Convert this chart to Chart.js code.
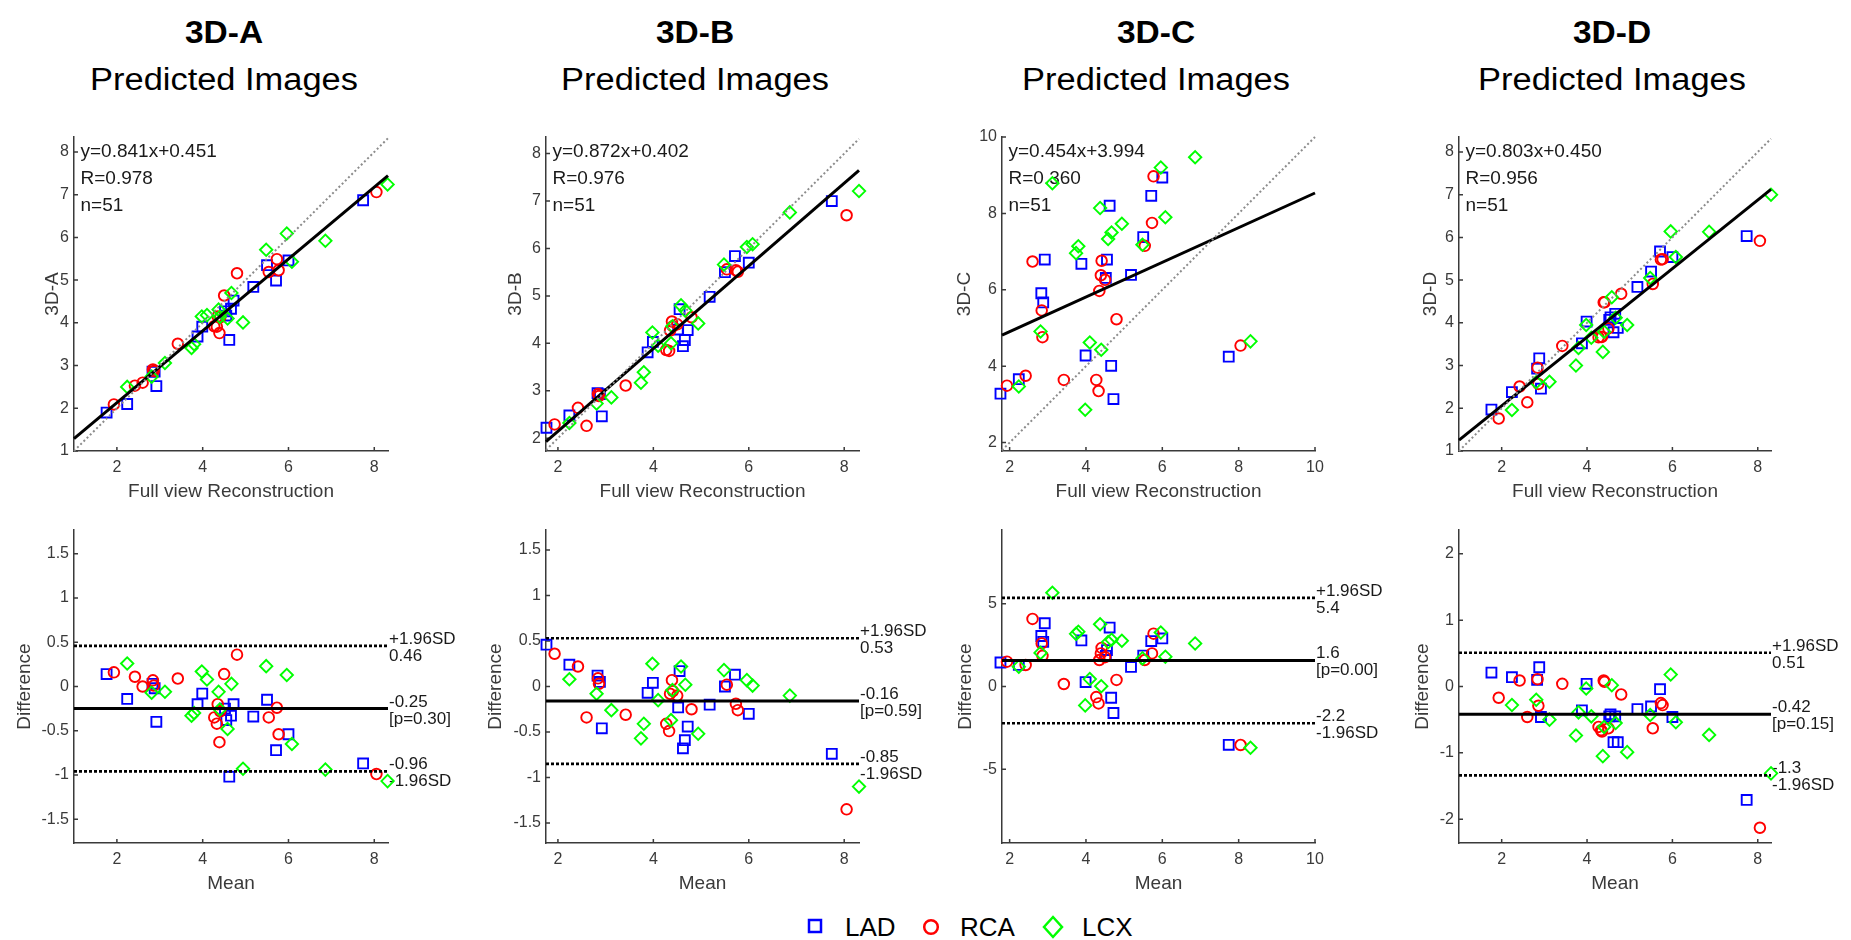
<!DOCTYPE html>
<html lang="en">
<head>
<meta charset="UTF-8">
<title>3D predicted images vs full view reconstruction</title>
<script src="https://cdn.jsdelivr.net/npm/chart.js"></script>
<style>
  body { margin: 0; width: 1851px; height: 940px; overflow: hidden; background: #fff; position: relative;
         font-family: 'Liberation Sans', Arial, sans-serif; }
  canvas { position: absolute; }
  .head, .sub { position: absolute; width: 400px; text-align: center; color: #000; white-space: nowrap; }
  .head { font-weight: bold; font-size: 31px; line-height: 31px; top: 17px; transform: scaleX(1.08); }
  .sub { font-size: 31px; line-height: 31px; top: 64px; transform: scaleX(1.11); }
  .leg { position: absolute; top: 914px; font-size: 26px; line-height: 26px; color: #000; }
  .legMark { position: absolute; top: 915px; }
</style>
</head>
<body>
<svg class="legMark" style="left:806px" width="20" height="24"><rect x="3" y="5" width="12" height="12" fill="none" stroke="#0000ff" stroke-width="2.5"/></svg>
<div class="leg" style="left:845px">LAD</div>
<svg class="legMark" style="left:920px" width="22" height="24"><circle cx="11" cy="12" r="6.8" fill="none" stroke="#ff0000" stroke-width="2.5"/></svg>
<div class="leg" style="left:960px">RCA</div>
<svg class="legMark" style="left:1042px" width="22" height="24"><polygon points="11,2 20,12 11,22 2,12" fill="none" stroke="#00ff00" stroke-width="2.5"/></svg>
<div class="leg" style="left:1082px">LCX</div>

<script>
  // panel names
  const panels = ['3D-A', '3D-B', '3D-C', '3D-D'];

  // full view reconstruction values (shared by all panels)
  const fullLAD = [1.76, 2.24, 2.83, 2.88, 2.92, 3.88, 3.99, 4.52, 4.55, 4.62, 4.66, 4.72, 5.18, 5.50, 5.71, 6.00, 7.74];
  const fullRCA = [1.93, 2.42, 2.60, 2.84, 2.86, 3.42, 4.27, 4.33, 4.35, 4.39, 4.41, 4.50, 4.80, 5.54, 5.73, 5.77, 8.05];
  const fullLCX = [2.24, 2.81, 3.12, 3.74, 3.80, 3.98, 4.10, 4.37, 4.40, 4.58, 4.67, 4.94, 5.48, 5.96, 6.08, 6.86, 8.31];

  // predicted values (top row)
  const predA_LAD = [1.90, 2.10, 2.86, 2.86, 2.52, 3.68, 3.91, 4.27, 4.17, 3.60, 4.33, 4.52, 4.84, 5.35, 4.99, 5.46, 6.87];
  const predA_RCA = [2.09, 2.53, 2.60, 2.91, 2.87, 3.51, 3.92, 3.91, 4.15, 3.76, 4.13, 4.64, 5.16, 5.19, 5.49, 5.23, 7.06];
  const predA_LCX = [2.50, 2.74, 3.06, 3.41, 3.50, 4.15, 4.18, 4.31, 4.14, 4.10, 4.70, 4.01, 5.71, 6.09, 5.43, 5.92, 7.24];
  const predB_LAD = [2.22, 2.48, 2.95, 2.93, 2.46, 3.81, 4.03, 4.29, 4.72, 3.94, 4.07, 4.28, 4.98, 5.50, 5.84, 5.70, 7.00];
  const predB_RCA = [2.29, 2.64, 2.26, 2.93, 2.89, 3.11, 3.86, 3.84, 4.27, 4.46, 4.36, 4.40, 4.55, 5.56, 5.54, 5.51, 6.70];
  const predB_LCX = [2.32, 2.73, 2.86, 3.17, 3.39, 4.23, 3.95, 4.00, 4.36, 4.80, 4.69, 4.42, 5.66, 6.03, 6.09, 6.76, 7.21];
  const predC_LAD = [3.28, 3.66, 5.91, 5.67, 6.79, 6.68, 4.28, 6.31, 6.79, 8.20, 4.01, 3.14, 6.39, 7.38, 8.46, 8.94, 4.25];
  const predC_RCA = [3.49, 3.75, 6.74, 5.46, 4.76, 3.64, 3.64, 3.35, 5.97, 6.38, 6.76, 6.26, 5.23, 7.15, 7.75, 8.97, 4.54];
  const predC_LCX = [3.47, 4.91, 8.79, 6.96, 7.14, 2.86, 4.62, 8.14, 4.43, 7.33, 7.50, 7.73, 7.18, 9.20, 7.90, 9.47, 4.65];
  const predD_LAD = [1.97, 2.38, 2.93, 3.17, 2.46, 3.52, 4.03, 4.07, 4.13, 3.78, 4.21, 3.88, 4.84, 5.20, 5.67, 5.54, 6.03];
  const predD_RCA = [1.76, 2.51, 2.14, 2.95, 2.57, 3.46, 3.66, 3.67, 3.67, 4.48, 4.48, 3.87, 4.68, 4.91, 5.48, 5.49, 5.92];
  const predD_LCX = [1.96, 2.61, 2.62, 3.00, 3.41, 3.95, 3.65, 3.32, 3.79, 4.60, 4.12, 3.95, 5.05, 6.14, 5.54, 6.13, 7.00];

  // differences (bottom row)
  const diffA_LAD = [0.14, -0.14, 0.03, -0.02, -0.40, -0.20, -0.08, -0.25, -0.38, -1.02, -0.33, -0.20, -0.34, -0.15, -0.72, -0.54, -0.87];
  const diffA_RCA = [0.16, 0.11, 0.00, 0.07, 0.01, 0.09, -0.35, -0.42, -0.20, -0.63, -0.28, 0.14, 0.36, -0.35, -0.24, -0.54, -0.99];
  const diffA_LCX = [0.26, -0.07, -0.06, -0.33, -0.30, 0.17, 0.08, -0.06, -0.26, -0.48, 0.03, -0.93, 0.23, 0.13, -0.65, -0.94, -1.07];
  const diffB_LAD = [0.46, 0.24, 0.12, 0.05, -0.46, -0.07, 0.04, -0.23, 0.17, -0.68, -0.59, -0.44, -0.20, 0.00, 0.13, -0.30, -0.74];
  const diffB_RCA = [0.36, 0.22, -0.34, 0.09, 0.03, -0.31, -0.41, -0.49, -0.08, 0.07, -0.05, -0.10, -0.25, 0.02, -0.19, -0.26, -1.35];
  const diffB_LCX = [0.08, -0.08, -0.26, -0.57, -0.41, 0.25, -0.15, -0.37, -0.04, 0.22, 0.02, -0.52, 0.18, 0.07, 0.01, -0.10, -1.10];
  const diffC_LAD = [1.45, 1.30, 3.05, 2.70, 3.82, 2.78, 0.27, 1.85, 2.20, 3.56, -0.68, -1.60, 1.18, 1.87, 2.74, 2.90, -3.52];
  const diffC_RCA = [1.50, 1.30, 4.08, 2.60, 1.85, 0.15, -0.64, -1.02, 1.60, 2.00, 2.33, 1.77, 0.40, 1.60, 2.00, 3.19, -3.53];
  const diffC_LCX = [1.20, 2.03, 5.66, 3.18, 3.31, -1.14, 0.45, 3.76, 0.02, 2.68, 2.82, 2.76, 1.70, 3.26, 1.80, 2.60, -3.70];
  const diffD_LAD = [0.21, 0.14, 0.10, 0.29, -0.46, -0.36, 0.04, -0.45, -0.42, -0.84, -0.45, -0.84, -0.34, -0.30, -0.04, -0.46, -1.71];
  const diffD_RCA = [-0.17, 0.09, -0.46, 0.11, -0.29, 0.04, -0.61, -0.66, -0.68, 0.09, 0.07, -0.63, -0.12, -0.63, -0.25, -0.28, -2.13];
  const diffD_LCX = [-0.28, -0.20, -0.50, -0.74, -0.39, -0.03, -0.45, -1.05, -0.61, 0.02, -0.55, -0.99, -0.43, 0.18, -0.54, -0.73, -1.31];

  // regression / Bland-Altman statistics
  const slopes = [0.841, 0.872, 0.454, 0.803];
  const intercepts = [0.451, 0.402, 3.994, 0.450];
  const rValues = ['0.978', '0.976', '0.360', '0.956'];
  const nValues = [51, 51, 51, 51];
  const meanDiff = [-0.25, -0.16, 1.57, -0.42];
  const upperLoA = [0.46, 0.53, 5.35, 0.51];
  const lowerLoA = [-0.96, -0.85, -2.22, -1.34];
  const meanLabels = ['-0.25', '-0.16', '1.6', '-0.42'];
  const upperLabels = ['0.46', '0.53', '5.4', '0.51'];
  const lowerLabels = ['-0.96', '-0.85', '-2.2', '-1.3'];
  const pValues = ['0.30', '0.59', '0.00', '0.15'];

  // axis limits and ticks
  const xMin = [1, 1.75, 1.8, 1];
  const xMax = [8.32, 8.31, 10, 8.31];
  const yMinTop = [1, 1.73, 1.78, 1];
  const yMaxTop = [8.35, 8.35, 10, 8.35];
  const diffLim = [1.77, 1.72, 9.45, 2.36];
  const xTicks = [[2, 4, 6, 8], [2, 4, 6, 8], [2, 4, 6, 8, 10], [2, 4, 6, 8]];
  const yTicksTop = [[1, 2, 3, 4, 5, 6, 7, 8], [2, 3, 4, 5, 6, 7, 8], [2, 4, 6, 8, 10], [1, 2, 3, 4, 5, 6, 7, 8]];
  const yTicksBottom = [[-1.5, -1, -0.5, 0, 0.5, 1, 1.5], [-1.5, -1, -0.5, 0, 0.5, 1, 1.5], [-5, 0, 5], [-2, -1, 0, 1, 2]];

  const predLAD = [predA_LAD, predB_LAD, predC_LAD, predD_LAD];
  const predRCA = [predA_RCA, predB_RCA, predC_RCA, predD_RCA];
  const predLCX = [predA_LCX, predB_LCX, predC_LCX, predD_LCX];
  const diffLAD = [diffA_LAD, diffB_LAD, diffC_LAD, diffD_LAD];
  const diffRCA = [diffA_RCA, diffB_RCA, diffC_RCA, diffD_RCA];
  const diffLCX = [diffA_LCX, diffB_LCX, diffC_LCX, diffD_LCX];

  // layout (page pixels)
  const plotLeft = [74, 546, 1002, 1459];
  const plotRight = [388, 859, 1315, 1771];
  const titleCenter = [224, 695, 1156, 1612];
  const yTitleOffTop = [21, 30, 37, 28];
  const yTitleOffBottom = [49, 50, 36, 36];

  const axisColor = '#3a3a3a';
  Chart.defaults.font.family = "'Liberation Sans', Arial, sans-serif";

  const pts = (xs, ys) => xs.map((x, i) => ({ x: x, y: ys[i] }));

  function markerSet(data, style, radius, color, order) {
    return {
      data: data, showLine: false, clip: false, order: order,
      pointStyle: style, pointRadius: radius, pointHoverRadius: radius,
      pointBorderColor: color, pointBackgroundColor: 'rgba(0,0,0,0)', pointBorderWidth: 1.9
    };
  }
  function lineSet(data, color, width, dash) {
    return { data: data, showLine: true, clip: false, order: 0, pointRadius: 0,
             borderColor: color, borderWidth: width, borderDash: dash };
  }

  // inward ticks + text inside / beside the plot
  const decor = {
    id: 'decor',
    beforeDatasetsDraw(chart, args, opts) {
      const { ctx, chartArea: a } = chart;
      const x = chart.scales.x, y = chart.scales.y;
      ctx.save();
      ctx.strokeStyle = axisColor;
      ctx.lineWidth = 1.5;
      ctx.beginPath();
      x.ticks.forEach(t => { const px = x.getPixelForValue(t.value); ctx.moveTo(px, a.bottom); ctx.lineTo(px, a.bottom - 4); });
      y.ticks.forEach(t => { const py = y.getPixelForValue(t.value); ctx.moveTo(a.left, py); ctx.lineTo(a.left + 4, py); });
      ctx.stroke();
      ctx.fillStyle = '#1a1a1a';
      if (opts.stats) {
        ctx.font = "19px 'Liberation Sans', Arial, sans-serif";
        ctx.textBaseline = 'middle';
        opts.stats.forEach((s, i) => ctx.fillText(s, a.left + 6.5, a.top + 15 + i * 27));
      }
      if (opts.limits) {
        ctx.font = "17px 'Liberation Sans', Arial, sans-serif";
        ctx.textBaseline = 'alphabetic';
        opts.limits.forEach(l => {
          const py = y.getPixelForValue(l.value);
          ctx.fillText(l.above, a.right + 1, py - 2);
          ctx.fillText(l.below, a.right + 1, py + 15);
        });
      }
      ctx.restore();
    }
  };

  function makePanel(i, top, bottom, cfg) {
    const c = document.createElement('canvas');
    const w = (plotRight[i] - plotLeft[i]) + 74 + 90;
    const h = (bottom - top) + 20 + 70;
    c.width = w; c.height = h;
    c.style.left = (plotLeft[i] - 74) + 'px';
    c.style.top = (top - 20) + 'px';
    document.body.appendChild(c);
    const yW = cfg.yTitleOff + 11.4;
    new Chart(c, {
      type: 'scatter',
      data: { datasets: cfg.datasets },
      plugins: [decor],
      options: {
        responsive: false, animation: false, events: [],
        layout: { padding: { left: 74 - yW, top: 20, right: 90, bottom: 70 - 52.4 } },
        plugins: { legend: { display: false }, tooltip: { enabled: false }, decor: cfg.decor },
        scales: {
          x: {
            type: 'linear', min: xMin[i], max: xMax[i],
            afterBuildTicks: s => { s.ticks = xTicks[i].map(v => ({ value: v })); },
            afterFit: s => { s.height = 52.4; },
            grid: { display: false, drawTicks: false },
            border: { display: true, color: axisColor, width: 1.5 },
            ticks: { color: axisColor, font: { size: 16 }, padding: 7, autoSkip: false, maxRotation: 0, callback: v => String(v) },
            title: { display: true, text: cfg.xTitle, color: axisColor, font: { size: 19 }, padding: 0 }
          },
          y: {
            type: 'linear', min: cfg.yMin, max: cfg.yMax,
            afterBuildTicks: s => { s.ticks = cfg.yTicks.map(v => ({ value: v })); },
            afterFit: s => { s.width = yW; },
            grid: { display: false, drawTicks: false },
            border: { display: true, color: axisColor, width: 1.5 },
            ticks: { color: axisColor, font: { size: 16 }, padding: 5, autoSkip: false, callback: v => String(v) },
            title: { display: true, text: cfg.yTitle, color: axisColor, font: { size: 19 }, padding: 0 }
          }
        }
      }
    });
  }

  panels.forEach((name, i) => {
    // titles
    const h1 = document.createElement('div');
    h1.className = 'head'; h1.textContent = name; h1.style.left = (titleCenter[i] - 200) + 'px';
    const h2 = document.createElement('div');
    h2.className = 'sub'; h2.textContent = 'Predicted Images'; h2.style.left = (titleCenter[i] - 200) + 'px';
    document.body.appendChild(h1); document.body.appendChild(h2);

    // correlation plot
    makePanel(i, 137, 451, {
      xTitle: 'Full view Reconstruction', yTitle: name, yTitleOff: yTitleOffTop[i],
      yMin: yMinTop[i], yMax: yMaxTop[i], yTicks: yTicksTop[i],
      decor: { stats: ['y=' + slopes[i].toFixed(3) + 'x+' + intercepts[i].toFixed(3), 'R=' + rValues[i], 'n=' + nValues[i]] },
      datasets: [
        lineSet([{ x: xMin[i], y: xMin[i] }, { x: xMax[i], y: xMax[i] }], '#8c8c8c', 2, [2, 2.5]),
        lineSet([{ x: xMin[i], y: slopes[i] * xMin[i] + intercepts[i] }, { x: xMax[i], y: slopes[i] * xMax[i] + intercepts[i] }], '#000', 3, []),
        markerSet(pts(fullLAD, predLAD[i]), 'rect', 7, '#0000ff', 3),
        markerSet(pts(fullRCA, predRCA[i]), 'circle', 5.3, '#ff0000', 2),
        markerSet(pts(fullLCX, predLCX[i]), 'rectRot', 6.2, '#00ff00', 1)
      ]
    });

    // difference plot
    makePanel(i, 530, 843, {
      xTitle: 'Mean', yTitle: 'Difference', yTitleOff: yTitleOffBottom[i],
      yMin: -diffLim[i], yMax: diffLim[i], yTicks: yTicksBottom[i],
      decor: { limits: [
        { value: upperLoA[i], above: '+1.96SD', below: upperLabels[i] },
        { value: meanDiff[i], above: meanLabels[i], below: '[p=' + pValues[i] + ']' },
        { value: lowerLoA[i], above: lowerLabels[i], below: '-1.96SD' }
      ] },
      datasets: [
        lineSet([{ x: xMin[i], y: upperLoA[i] }, { x: xMax[i], y: upperLoA[i] }], '#000', 2.6, [3, 2]),
        lineSet([{ x: xMin[i], y: meanDiff[i] }, { x: xMax[i], y: meanDiff[i] }], '#000', 3, []),
        lineSet([{ x: xMin[i], y: lowerLoA[i] }, { x: xMax[i], y: lowerLoA[i] }], '#000', 2.6, [3, 2]),
        markerSet(pts(fullLAD, diffLAD[i]), 'rect', 7, '#0000ff', 3),
        markerSet(pts(fullRCA, diffRCA[i]), 'circle', 5.3, '#ff0000', 2),
        markerSet(pts(fullLCX, diffLCX[i]), 'rectRot', 6.2, '#00ff00', 1)
      ]
    });
  });
</script>
</body>
</html>
